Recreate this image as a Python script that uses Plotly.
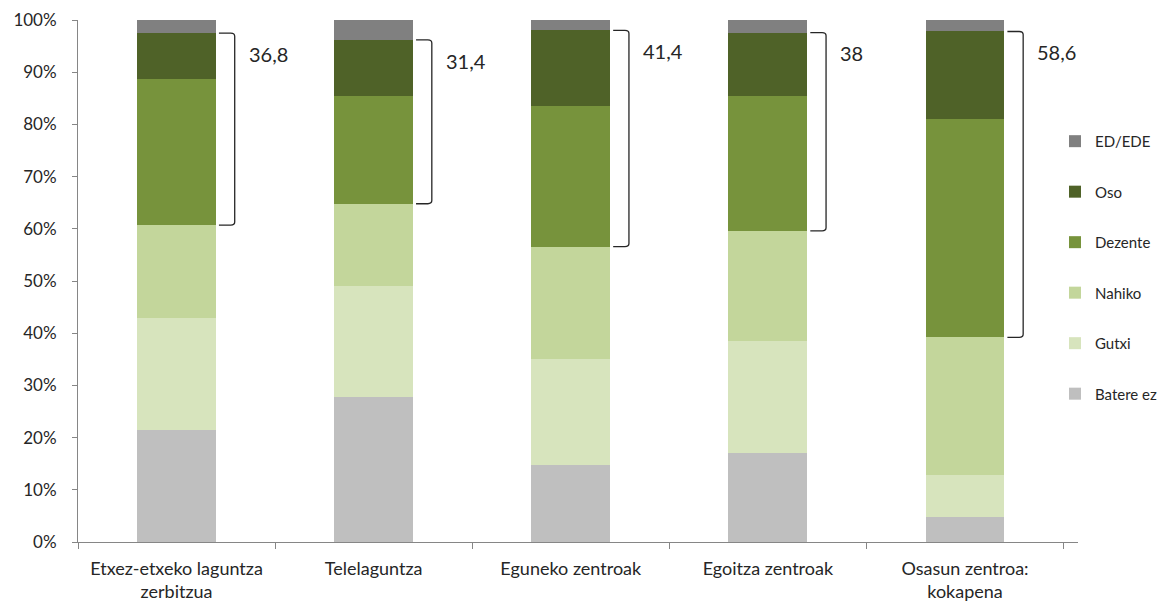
import plotly.graph_objects as go

categories = ["Etxez-etxeko laguntza<br>zerbitzua", "Telelaguntza", "Eguneko zentroak",
              "Egoitza zentroak", "Osasun zentroa:<br>kokapena"]
series_names = ["Batere ez", "Gutxi", "Nahiko", "Dezente", "Oso", "ED/EDE"]
batere_ez = [21.4, 27.8, 14.8, 17.0, 4.8]
gutxi = [21.6, 21.2, 20.2, 21.5, 8.0]
nahiko = [17.7, 15.8, 21.6, 21.1, 26.4]
dezente = [28.0, 20.6, 27.0, 25.8, 41.8]
oso = [8.8, 10.8, 14.4, 12.2, 16.8]
ed_ede = [2.5, 3.8, 2.0, 2.4, 2.2]
y_ticks = [0, 10, 20, 30, 40, 50, 60, 70, 80, 90, 100]
y_tick_labels = [f"{t}%" for t in y_ticks]

colors = ["#BFBFBF", "#D7E4BD", "#C3D69B", "#77933C", "#4F6228", "#808080"]
values = [batere_ez, gutxi, nahiko, dezente, oso, ed_ede]

FONT = "Lato, 'Open Sans', sans-serif"
fig = go.Figure()
n = len(series_names)
for k, (name, vals, col) in enumerate(zip(series_names, values, colors)):
    fig.add_trace(go.Bar(x=categories, y=vals, name=name, marker_color=col,
                         marker_line_width=0, legendgroup=name,
                         legendrank=1000 + (n - k)))

# brackets for Dezente + Oso
for i in range(len(categories)):
    low = batere_ez[i] + gutxi[i] + nahiko[i]
    high = low + dezente[i] + oso[i]
    x0, x1 = i + 0.215, i + 0.295
    r = 0.6
    path = (f"M {x0},{high} L {x1 - 0.02},{high} Q {x1},{high} {x1},{high - r} "
            f"L {x1},{low + r} Q {x1},{low} {x1 - 0.02},{low} L {x0},{low}")
    fig.add_shape(type="path", path=path, xref="x", yref="y",
                  line=dict(color="#262626", width=1.3))
    total = round(dezente[i] + oso[i], 1)
    label = f"{total:g}".replace(".", ",")
    fig.add_annotation(x=i + 0.355, y=high - 4.0, xref="x", yref="y", text=label,
                       showarrow=False, xanchor="left", yanchor="middle",
                       font=dict(size=20, color="#262626", family=FONT))

# page body has an 8px default margin, so the figure is sized to fit
fig.update_layout(
    width=1159, height=598,
    margin=dict(l=70, r=89, t=12, b=64, autoexpand=False),
    barmode="stack", bargap=0.6,
    plot_bgcolor="white", paper_bgcolor="white",
    font=dict(family=FONT, size=17, color="#262626"),
    showlegend=True,
    legend=dict(x=0.977, xanchor="left", y=0.799, yanchor="top",
                traceorder="grouped", tracegroupgap=28,
                font=dict(size=15, color="#262626"), bgcolor="rgba(0,0,0,0)"),
)
fig.update_xaxes(showline=True, linecolor="#868686", linewidth=1, automargin=False,
                 ticks="outside", tickson="boundaries", ticklen=6, tickcolor="#868686",
                 ticklabelstandoff=10,
                 showgrid=False, tickfont=dict(size=18, color="#262626"))
fig.update_yaxes(range=[0, 100], tickmode="array", tickvals=y_ticks, ticktext=y_tick_labels,
                 showline=True, linecolor="#868686", linewidth=1, automargin=False,
                 ticks="outside", ticklen=5, tickcolor="#868686", ticklabelstandoff=12,
                 showgrid=False, zeroline=False,
                 tickfont=dict(size=17, color="#262626"))

fig.write_html("out.html")
